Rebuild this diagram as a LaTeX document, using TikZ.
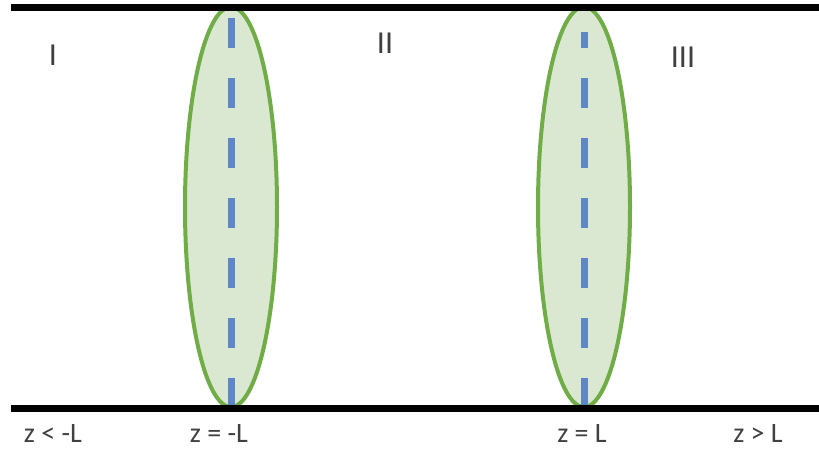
\documentclass[tikz,border=0pt]{standalone}
\usepackage{fontspec}
\setmainfont{Carlito}
\usepackage{tikz}
\usetikzlibrary{positioning}
\definecolor{lensgreen}{RGB}{112,173,71}
\definecolor{lensfill}{RGB}{218,232,210}
\definecolor{axisblue}{RGB}{95,135,200}
\definecolor{labelgray}{RGB}{64,64,64}
\tikzset{
    wall/.style={draw=black, line width=7pt},
    lens/.style={draw=lensgreen, fill=lensfill, line width=4pt},
    axis/.style={draw=axisblue, line width=7pt, dash pattern=on 30pt off 30pt},
    region/.style={text=labelgray, font=\fontsize{32}{34}\selectfont, anchor=base, inner sep=0pt},
    zlabel/.style={text=labelgray, font=\fontsize{28}{30}\selectfont, anchor=base, inner sep=0pt}
}

\begin{document}
\begin{tikzpicture}[x=1pt, y=-1pt]
    \useasboundingbox (0,0) rectangle (819,451);

    % Coordinates
    \coordinate (TL) at (11,7.5);
    \coordinate (TR) at (819,7.5);
    \coordinate (BL) at (11,408);
    \coordinate (BR) at (819,408);
    \coordinate (atop) at (231,7);
    \coordinate (abot) at (231,408);
    \coordinate (btop) at (584,32);
    \coordinate (bbot) at (584,408);

    % lenses
    \path[lens] (231,207) ellipse [x radius=46, y radius=200];
    \path[lens] (584,207) ellipse [x radius=46, y radius=200];
    \draw[axis, dash phase=49pt] (atop) -- (abot);
    \draw[axis, dash phase=14pt] (btop) -- (bbot);

    % walls
    \draw[wall] (TL) -- (TR);
    \draw[wall] (BL) -- (BR);

    % Nodes
    \node[region] (r1) at (53,65) {I};
    \node[region] (r2) at (385,53) {II};
    \node[region] (r3) at (683,67) {III};
    \node[zlabel] (z1) at (53,442) {z < -L};
    \node[zlabel] (z2) at (219,442) {z = -L};
    \node[zlabel] (z3) at (582,442) {z = L};
    \node[zlabel] (z4) at (758,442) {z > L};
\end{tikzpicture}
\end{document}
